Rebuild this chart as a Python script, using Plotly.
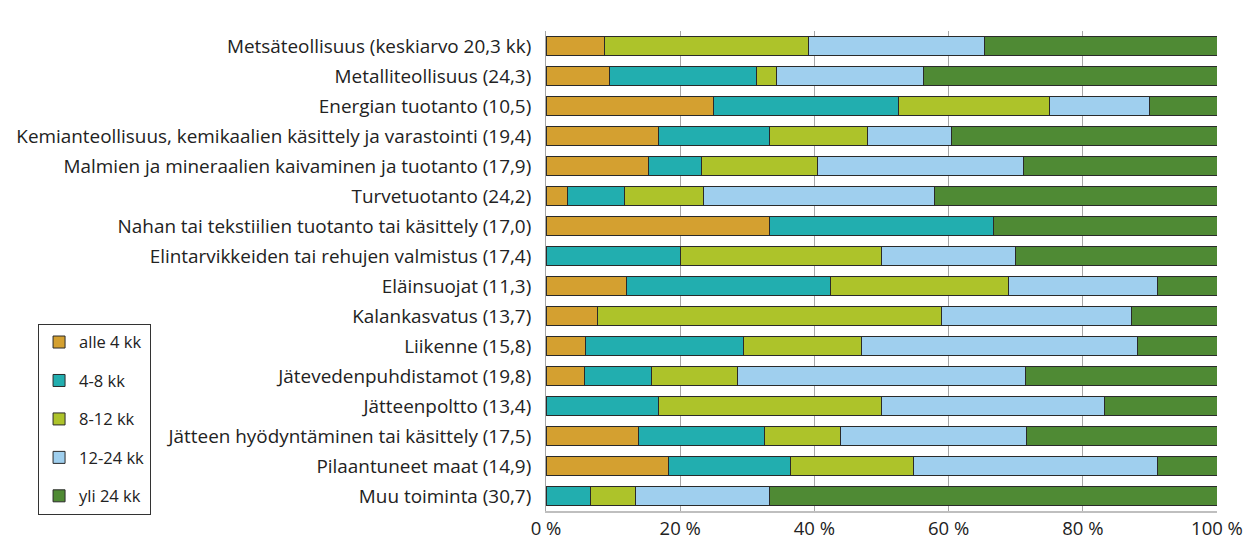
import plotly.graph_objects as go

categories = [
    "Metsäteollisuus (keskiarvo 20,3 kk)",
    "Metalliteollisuus (24,3)",
    "Energian tuotanto (10,5)",
    "Kemianteollisuus, kemikaalien käsittely ja varastointi (19,4)",
    "Malmien ja mineraalien kaivaminen ja tuotanto (17,9)",
    "Turvetuotanto (24,2)",
    "Nahan tai tekstiilien tuotanto tai käsittely (17,0)",
    "Elintarvikkeiden tai rehujen valmistus (17,4)",
    "Eläinsuojat (11,3)",
    "Kalankasvatus (13,7)",
    "Liikenne (15,8)",
    "Jätevedenpuhdistamot (19,8)",
    "Jätteenpoltto (13,4)",
    "Jätteen hyödyntäminen tai käsittely (17,5)",
    "Pilaantuneet maat (14,9)",
    "Muu toiminta (30,7)",
]

series_names = ["alle 4 kk", "4-8 kk", "8-12 kk", "12-24 kk", "yli 24 kk"]

alle_4 = [8.7, 9.4, 25.0, 16.7, 15.3, 3.2, 33.3, 0.0, 12.0, 7.7, 5.9, 5.7, 0.0, 13.8, 18.2, 0.0]
v4_8 = [0.0, 22.0, 27.5, 16.6, 7.8, 8.5, 33.4, 20.0, 30.4, 0.0, 23.6, 10.0, 16.7, 18.8, 18.2, 6.7]
v8_12 = [30.4, 3.0, 22.5, 14.6, 17.3, 11.7, 0.0, 30.0, 26.6, 51.3, 17.5, 12.9, 33.3, 11.3, 18.3, 6.6]
v12_24 = [26.2, 21.9, 15.0, 12.5, 30.8, 34.5, 0.0, 20.0, 22.1, 28.3, 41.2, 42.8, 33.3, 27.7, 36.4, 20.0]
yli_24 = [34.7, 43.7, 10.0, 39.6, 28.8, 42.1, 33.3, 30.0, 8.9, 12.7, 11.8, 28.6, 16.7, 28.4, 8.9, 66.7]

colors = ["#D4A030", "#22AEAF", "#ADC32A", "#9FCFEE", "#4F8A34"]

tick_vals = [0, 20, 40, 60, 80, 100]
tick_text = ["0 %", "20 %", "40 %", "60 %", "80 %", "100 %"]

FONT = "'Open Sans', Lato, sans-serif"

fig = go.Figure()
for name, vals, col in zip(series_names, [alle_4, v4_8, v8_12, v12_24, yli_24], colors):
    fig.add_trace(go.Bar(
        y=categories, x=vals, name=name, orientation="h",
        marker=dict(color=col, line=dict(color="#2a2a2a", width=1)),
        legendgroup=name,
    ))

fig.update_layout(
    barmode="stack",
    bargap=0.37,
    width=1249, height=544,
    margin=dict(l=538, r=40, t=23, b=41, autoexpand=False),
    plot_bgcolor="white", paper_bgcolor="white",
    font=dict(family=FONT, size=18.9, color="#222222"),
    legend=dict(
        x=-0.757, y=0.39, xanchor="left", yanchor="top",
        traceorder="grouped", tracegroupgap=14,
        bordercolor="#333333", borderwidth=1,
        font=dict(family=FONT, size=16.5, color="#222222"),
        itemwidth=30,
    ),
    xaxis=dict(
        range=[0, 100], tickvals=tick_vals, ticktext=tick_text,
        showgrid=True, gridcolor="#A6A6A6", gridwidth=1,
        showline=True, linecolor="#BFBFBF", linewidth=2,
        zeroline=False, ticks="", tickfont=dict(size=18.5),
        automargin=False,
    ),
    yaxis=dict(
        autorange="reversed", showgrid=False,
        showline=True, linecolor="#A6A6A6", linewidth=1,
        ticks="outside", ticklen=10, tickcolor="rgba(0,0,0,0)",
        tickfont=dict(size=18.9), automargin=False,
    ),
)

fig.write_html("out.html")
